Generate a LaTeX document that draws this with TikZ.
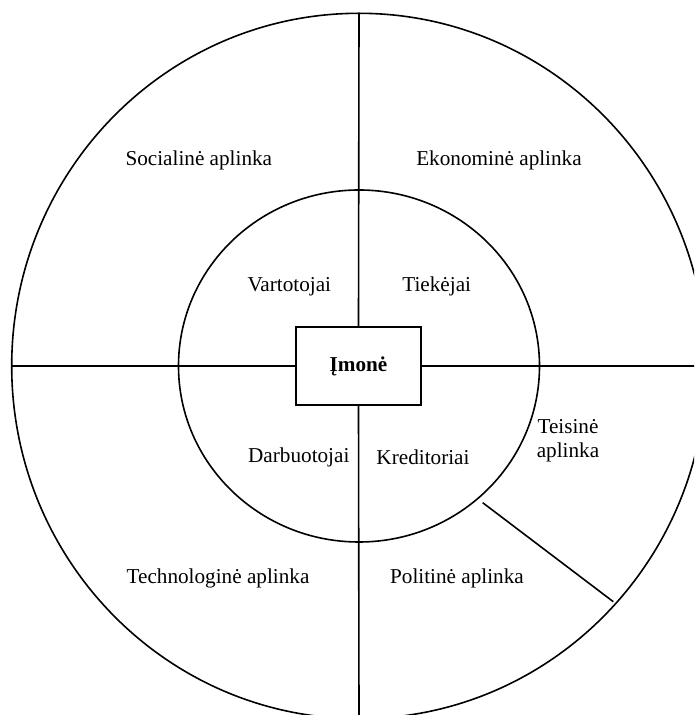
\documentclass[tikz,border=0pt]{standalone}
\usepackage{fontspec}
\setmainfont{Liberation Serif}
\usetikzlibrary{shapes.geometric}

\begin{document}
\begin{tikzpicture}[x=1pt,y=1pt,
  rim/.style={draw, ellipse, line width=1.6pt, inner sep=0pt, outer sep=0pt},
  divider/.style={line width=1.6pt},
  label/.style={font=\fontsize{21.2}{24}\selectfont, inner sep=0pt, align=center},
  core/.style={draw, line width=1.6pt, minimum width=125pt, minimum height=78pt,
    inner sep=0pt, outer sep=0pt, font=\fontsize{21.2}{24}\selectfont\bfseries}]
  \useasboundingbox (0,0) rectangle (694,715);
  \clip (0,0) rectangle (694,715);

  % environment rings
  \node[rim, minimum width=694.6pt, minimum height=705.4pt] (outer) at (359,349) {};
  \node[rim, minimum width=361pt, minimum height=352pt] (inner) at (359,349) {};

  % the firm in the middle
  \node[core, fill=white] (firm) at (358.5,349) {Įmonė};

  % quadrant dividers
  \draw[divider] (outer.north) -- (firm.north);
  \draw[divider] (firm.south) -- (outer.south);
  \draw[divider] (outer.west) -- (firm.west);
  \draw[divider] (firm.east) -- (outer.east);

  % separator between legal and political environment
  \coordinate (sepA) at (482.7,212.3);
  \coordinate (sepB) at (613.3,113.3);
  \draw[divider] (sepA) -- (sepB);

  % outer ring labels
  \node[label] (soc) at (198.8,554.3) {Socialinė aplinka};
  \node[label] (eko) at (499,554.3) {Ekonominė aplinka};
  \node[label] (tei) at (568,274) {Teisinė\\aplinka};
  \node[label] (tech) at (218,136.5) {Technologinė aplinka};
  \node[label] (pol) at (457,136.5) {Politinė aplinka};

  % inner ring labels
  \node[label] (var) at (289.3,428.7) {Vartotojai};
  \node[label] (tie) at (436.7,429) {Tiekėjai};
  \node[label] (dar) at (298.8,257.5) {Darbuotojai};
  \node[label] (kre) at (423,258) {Kreditoriai};
\end{tikzpicture}
\end{document}
